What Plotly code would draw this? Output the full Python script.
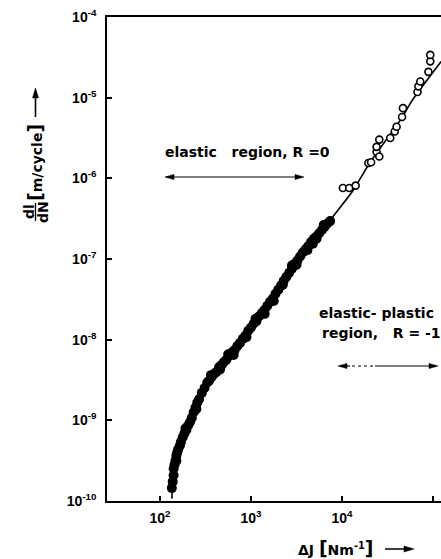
import plotly.graph_objects as go

# ---- data (log10 values) ----
fit_log_dJ = [2.13, 2.15, 2.17, 2.19, 2.22, 2.25, 2.29, 2.35, 2.40, 2.45, 2.53, 2.63, 2.72, 2.80,
              2.90, 3.00, 3.10, 3.20, 3.30, 3.40, 3.50, 3.60, 3.70, 3.80, 3.87, 4.00, 4.11, 4.31,
              4.50, 4.64, 4.78, 4.95, 5.09]
fit_log_dldN = [-9.97, -9.70, -9.55, -9.45, -9.33, -9.22, -9.10, -8.98, -8.80, -8.68, -8.52, -8.38,
                -8.26, -8.15, -8.00, -7.85, -7.70, -7.55, -7.38, -7.20, -7.03, -6.88, -6.74, -6.62,
                -6.52, -6.33, -6.17, -5.80, -5.50, -5.28, -5.02, -4.76, -4.55]

elastic_log_dJ = [2.13, 2.14, 2.15, 2.15, 2.16, 2.17, 2.18, 2.19, 2.20, 2.22, 2.23, 2.25, 2.27, 2.29,
                  2.31, 2.33, 2.35, 2.37, 2.39, 2.41, 2.43, 2.46, 2.49, 2.52, 2.54, 2.57, 2.60, 2.62,
                  2.65, 2.68, 2.70, 2.73, 2.76, 2.79, 2.82, 2.85, 2.88, 2.91, 2.94, 2.97, 3.00, 3.03,
                  3.06, 3.09, 3.12, 3.15, 3.18, 3.21, 3.24, 3.27, 3.30, 3.33, 3.36, 3.39, 3.42, 3.45,
                  3.48, 3.51, 3.54, 3.57, 3.60, 3.63, 3.66, 3.69, 3.72, 3.75, 3.78, 3.81, 3.84, 3.87,
                  2.56, 2.81, 3.05, 3.35, 3.62, 3.80, 2.28, 2.66, 2.95, 3.25, 3.50, 3.72,
                  2.40, 2.75, 3.15, 3.45, 3.68, 2.18]
elastic_log_dldN = [-9.84, -9.76, -9.68, -9.60, -9.55, -9.50, -9.44, -9.40, -9.36, -9.31, -9.27, -9.21,
                    -9.16, -9.12, -9.06, -9.02, -8.97, -8.90, -8.84, -8.78, -8.74, -8.66, -8.60, -8.53,
                    -8.51, -8.46, -8.42, -8.40, -8.34, -8.31, -8.28, -8.25, -8.20, -8.16, -8.13, -8.08,
                    -8.04, -7.99, -7.95, -7.89, -7.85, -7.80, -7.77, -7.71, -7.67, -7.63, -7.58, -7.53,
                    -7.49, -7.43, -7.38, -7.33, -7.27, -7.22, -7.17, -7.12, -7.06, -7.02, -6.97, -6.92,
                    -6.88, -6.84, -6.79, -6.75, -6.72, -6.68, -6.64, -6.60, -6.56, -6.53,
                    -8.44, -8.19, -7.74, -7.32, -6.89, -6.58, -9.10, -8.37, -7.97, -7.52, -7.07, -6.75,
                    -8.86, -8.18, -7.68, -7.08, -6.81, -9.50]

plastic_log_dJ = [4.01, 4.08, 4.15, 4.29, 4.32, 4.38, 4.41, 4.41, 4.38, 4.53, 4.58, 4.60, 4.66, 4.67,
                  4.83, 4.84, 4.86, 4.95, 4.97, 4.97]
plastic_log_dldN = [-6.12, -6.12, -6.09, -5.81, -5.80, -5.67, -5.73, -5.52, -5.61, -5.50, -5.42, -5.36,
                    -5.24, -5.13, -4.93, -4.86, -4.80, -4.68, -4.55, -4.47]

x_tick_vals = [1e2, 1e3, 1e4, 1e5]
x_tick_text = ["10<sup>2</sup>", "10<sup>3</sup>", "10<sup>4</sup>", "10<sup>5</sup>"]
y_tick_vals = [1e-10, 1e-9, 1e-8, 1e-7, 1e-6, 1e-5, 1e-4]
y_tick_text = ["10<sup>-10</sup>", "10<sup>-9</sup>", "10<sup>-8</sup>", "10<sup>-7</sup>",
               "10<sup>-6</sup>", "10<sup>-5</sup>", "10<sup>-4</sup>"]

# ---- layout helpers (pixel -> paper) ----
W, H = 441, 559
L, R, T, B = 107, 441, 17, 501


def px(x):
    return (x - L) / (R - L)


def py(y):
    return (B - y) / (B - T)


shapes = []


def seg(x0, y0, x1, y1, width=1.3, dash="solid"):
    shapes.append(dict(type="line", xref="paper", yref="paper", x0=px(x0), y0=py(y0),
                       x1=px(x1), y1=py(y1), line=dict(color="black", width=width, dash=dash)))


def head(tip, direction, length=9, half=2.6):
    tx, ty = tip
    if direction == "r":
        pts = [(tx, ty), (tx - length, ty - half), (tx - length, ty + half)]
    elif direction == "l":
        pts = [(tx, ty), (tx + length, ty - half), (tx + length, ty + half)]
    else:
        pts = [(tx, ty), (tx - half, ty + length), (tx + half, ty + length)]
    path = "M {} {} L {} {} L {} {} Z".format(*[v for p in pts for v in (px(p[0]), py(p[1]))])
    shapes.append(dict(type="path", xref="paper", yref="paper", path=path,
                       fillcolor="black", line=dict(color="black", width=0.5)))


TICK_FONT = "Liberation Sans"
TEXT_FONT = "DejaVu Sans"
fig = go.Figure()

fig.add_trace(go.Scatter(
    x=[10 ** v for v in fit_log_dJ], y=[10 ** v for v in fit_log_dldN],
    mode="lines", line=dict(color="black", width=1.6, shape="spline"), hoverinfo="skip"))
fig.add_trace(go.Scatter(
    x=[10 ** v for v in elastic_log_dJ], y=[10 ** v for v in elastic_log_dldN],
    mode="markers", marker=dict(color="black", size=10, line=dict(width=0))))
fig.add_trace(go.Scatter(
    x=[10 ** v for v in plastic_log_dJ], y=[10 ** v for v in plastic_log_dldN],
    mode="markers", marker=dict(color="white", size=7, line=dict(color="black", width=1.6))))

axis_common = dict(type="log", ticks="inside", ticklen=5, tickwidth=1.5, tickcolor="black",
                   showline=True, linecolor="black", linewidth=1.6, showgrid=False, zeroline=False,
                   tickfont=dict(family=TICK_FONT, size=14, weight="bold"))
fig.update_layout(
    width=W, height=H, showlegend=False,
    margin=dict(l=L, r=W - R, t=T, b=H - B),
    paper_bgcolor="white", plot_bgcolor="white",
    font=dict(family=TEXT_FONT, size=14, color="black", weight="bold"),
    xaxis=dict(range=[1.418, 5.088], tickvals=x_tick_vals, ticktext=x_tick_text, mirror=True,
               ticklabelstandoff=3, **axis_common),
    yaxis=dict(range=[-10, -4], tickvals=y_tick_vals, ticktext=y_tick_text, mirror=False,
               ticklabelstandoff=6, **axis_common),
)


def text(x, y, s, anchor="center", angle=0):
    return dict(x=px(x), y=py(y), xref="paper", yref="paper", showarrow=False,
                xanchor=anchor, yanchor="middle", textangle=angle, text=s)


BR_L = "<span style='font-size:19px'>[</span>"
BR_R = "<span style='font-size:19px'>]</span>"

ann = []
# region labels
ann.append(text(163, 152, "elastic&nbsp;&nbsp;&nbsp;region,&nbsp;R =0", anchor="left"))
seg(166, 177, 302, 177, width=1.2)
head((165, 177), "l")
head((304, 177), "r")

ann.append(text(317, 313, "elastic-&nbsp;plastic", anchor="left"))
ann.append(text(320, 333, "region,&nbsp;&nbsp;&nbsp;R = -1", anchor="left"))
seg(340, 366, 350, 366, width=1.2)
seg(352, 366, 374, 366, width=1.0, dash="dot")
seg(375, 366, 436, 366, width=1.2)
head((338, 366), "l")
head((438, 366), "r")

# x-axis title
ann.append(text(336, 548, "ΔJ " + BR_L + "Nm<sup>-1</sup>" + BR_R))
seg(385, 549, 406, 549, width=1.5)
head((414, 549), "r", length=10, half=3)

# y-axis title
ann.append(text(29, 212, "dl", angle=-90))
ann.append(text(43, 212, "dN", angle=-90))
seg(35.5, 203, 35.5, 221, width=1.3)
ann.append(text(35, 163, BR_L + "m/cycle" + BR_R, angle=-90))
seg(35.5, 117, 35.5, 96, width=1.6)
head((35.5, 88), "u", length=10, half=3)

fig.update_layout(annotations=ann, shapes=shapes)

fig.write_html("out.html", config={"displayModeBar": False},
               post_script="document.body.style.margin='0px';")
